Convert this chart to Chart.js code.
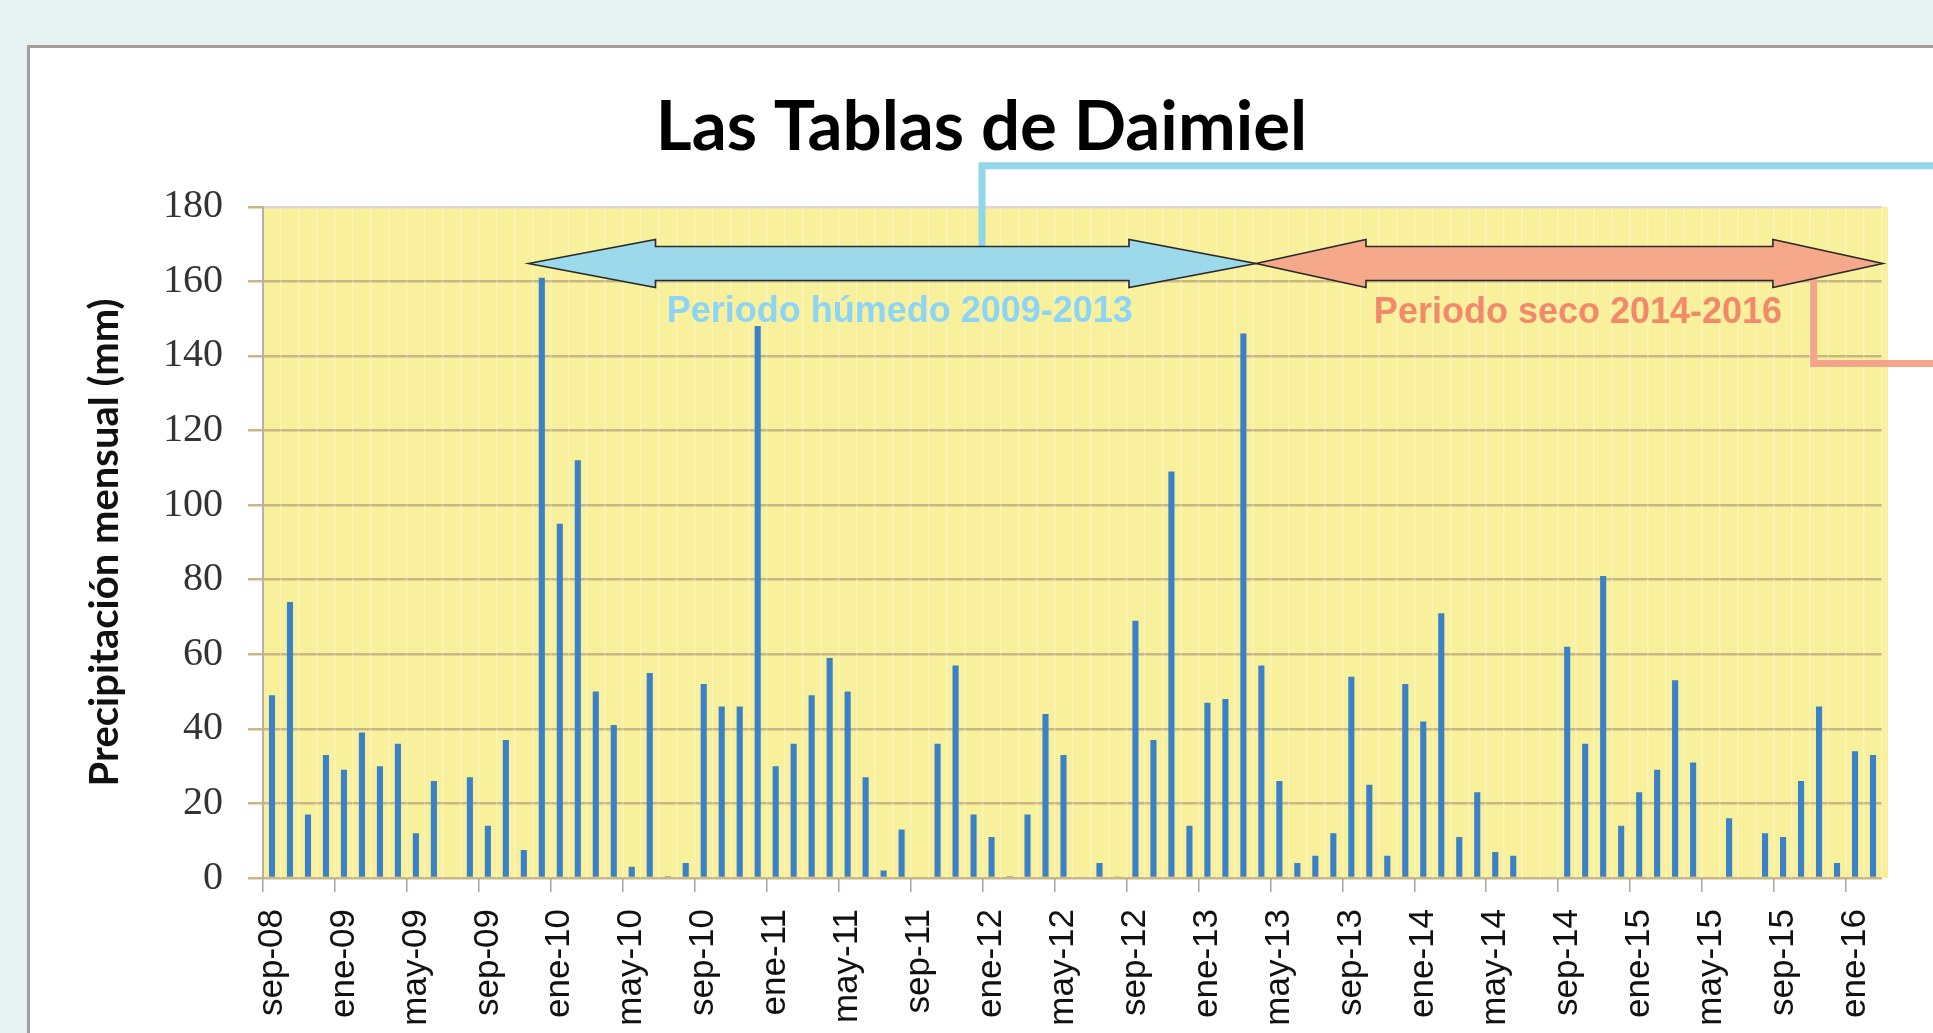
<!DOCTYPE html>
<html lang="es">
<head>
<meta charset="utf-8">
<title>Las Tablas de Daimiel</title>
<script src="https://cdn.jsdelivr.net/npm/chart.js@4.4.1/dist/chart.umd.min.js"></script>
<style>
    html, body { margin: 0; padding: 0; }
    body { width: 1933px; height: 1033px; background: #e6f1f1; overflow: hidden; position: relative; }
    #panel { position: absolute; left: 27px; top: 45px; width: 1960px; height: 1060px; background: #fff; border: 3px solid #a59d9c; box-sizing: border-box; }
    #wrap { position: absolute; left: 0; top: 0; width: 1933px; height: 1033px; }
</style>
</head>
<body>
<div id="panel"></div>
<div id="wrap"><canvas id="daimielChart"></canvas></div>
<script>
// Meses (sep-08 a feb-16)
const meses = [
    'sep-08', 'oct-08', 'nov-08', 'dic-08',
    'ene-09', 'feb-09', 'mar-09', 'abr-09', 'may-09', 'jun-09', 'jul-09', 'ago-09', 'sep-09', 'oct-09', 'nov-09', 'dic-09',
    'ene-10', 'feb-10', 'mar-10', 'abr-10', 'may-10', 'jun-10', 'jul-10', 'ago-10', 'sep-10', 'oct-10', 'nov-10', 'dic-10',
    'ene-11', 'feb-11', 'mar-11', 'abr-11', 'may-11', 'jun-11', 'jul-11', 'ago-11', 'sep-11', 'oct-11', 'nov-11', 'dic-11',
    'ene-12', 'feb-12', 'mar-12', 'abr-12', 'may-12', 'jun-12', 'jul-12', 'ago-12', 'sep-12', 'oct-12', 'nov-12', 'dic-12',
    'ene-13', 'feb-13', 'mar-13', 'abr-13', 'may-13', 'jun-13', 'jul-13', 'ago-13', 'sep-13', 'oct-13', 'nov-13', 'dic-13',
    'ene-14', 'feb-14', 'mar-14', 'abr-14', 'may-14', 'jun-14', 'jul-14', 'ago-14', 'sep-14', 'oct-14', 'nov-14', 'dic-14',
    'ene-15', 'feb-15', 'mar-15', 'abr-15', 'may-15', 'jun-15', 'jul-15', 'ago-15', 'sep-15', 'oct-15', 'nov-15', 'dic-15',
    'ene-16', 'feb-16'
];

// Precipitación mensual (mm), mismo orden que meses
const precipitacion = [
    49, 74, 17, 33,
    29, 39, 30, 36, 12, 26, 0, 27, 14, 37, 7.5, 161,
    95, 112, 50, 41, 3, 55, 0.5, 4, 52, 46, 46, 148,
    30, 36, 49, 59, 50, 27, 2, 13, 0, 36, 57, 17,
    11, 0.5, 17, 44, 33, 0, 4, 0.3, 69, 37, 109, 14,
    47, 48, 146, 57, 26, 4, 6, 12, 54, 25, 6, 52,
    42, 71, 11, 23, 7, 6, 0, 0, 62, 36, 81, 14,
    23, 29, 53, 31, 0, 16, 0, 12, 11, 26, 46, 4,
    34, 33
];

// Marcas del eje Y
const ticksY = [0, 20, 40, 60, 80, 100, 120, 140, 160, 180];

// Periodos marcados con flechas (posiciones en índice de mes y mm)
const periodoHumedo = { texto: 'Periodo húmedo 2009-2013', desde: 14.26, hasta: 54.7, nivel: 164.8, textoX: 34.9, textoY: 151.8 };
const periodoSeco = { texto: 'Periodo seco 2014-2016', desde: 54.7, hasta: 89.55, nivel: 164.8, textoX: 72.6, textoY: 151.6 };

// Fondo amarillo del área de trazado
const fondoPlugin = {
    id: 'fondoPlot',
    beforeDraw(chart) {
        const { ctx, chartArea: a } = chart;
        ctx.save();
        ctx.fillStyle = '#f9f09c';
        ctx.fillRect(a.left, a.top, a.right - a.left + 6, a.bottom - a.top);
        ctx.restore();
    }
};

// Flecha de doble punta
function dibujarFlecha(ctx, x1, x2, yc, cabeza, relleno) {
    const alto = 24, asta = 17;
    ctx.beginPath();
    ctx.moveTo(x1, yc);
    ctx.lineTo(x1 + cabeza, yc - alto);
    ctx.lineTo(x1 + cabeza, yc - asta);
    ctx.lineTo(x2 - cabeza, yc - asta);
    ctx.lineTo(x2 - cabeza, yc - alto);
    ctx.lineTo(x2, yc);
    ctx.lineTo(x2 - cabeza, yc + alto);
    ctx.lineTo(x2 - cabeza, yc + asta);
    ctx.lineTo(x1 + cabeza, yc + asta);
    ctx.lineTo(x1 + cabeza, yc + alto);
    ctx.closePath();
    ctx.fillStyle = relleno;
    ctx.fill();
    ctx.strokeStyle = '#2a2a2a';
    ctx.lineWidth = 1.6;
    ctx.stroke();
}

const periodosPlugin = {
    id: 'periodos',
    afterDatasetsDraw(chart) {
        const { ctx, scales: { x, y } } = chart;
        ctx.save();

        // conectores que salen hacia la derecha
        ctx.lineWidth = 7;
        ctx.strokeStyle = '#93d6e9';
        ctx.beginPath();
        ctx.moveTo(x.getPixelForValue(39.47), y.getPixelForValue(periodoHumedo.nivel));
        ctx.lineTo(x.getPixelForValue(39.47), y.getPixelForValue(191));
        ctx.lineTo(chart.width + 10, y.getPixelForValue(191));
        ctx.stroke();

        ctx.strokeStyle = '#f5a48b';
        ctx.beginPath();
        ctx.moveTo(x.getPixelForValue(85.7), y.getPixelForValue(periodoSeco.nivel));
        ctx.lineTo(x.getPixelForValue(85.7), y.getPixelForValue(138));
        ctx.lineTo(chart.width + 10, y.getPixelForValue(138));
        ctx.stroke();

        dibujarFlecha(ctx, x.getPixelForValue(periodoHumedo.desde), x.getPixelForValue(periodoHumedo.hasta),
            y.getPixelForValue(periodoHumedo.nivel), 127, '#9cd9eb');
        dibujarFlecha(ctx, x.getPixelForValue(periodoSeco.desde), x.getPixelForValue(periodoSeco.hasta),
            y.getPixelForValue(periodoSeco.nivel), 110, '#f6a98a');

        ctx.font = 'bold 36px "Liberation Sans", Arial, sans-serif';
        ctx.textAlign = 'center';
        ctx.textBaseline = 'middle';
        ctx.fillStyle = '#8dd5f6';
        ctx.fillText(periodoHumedo.texto, x.getPixelForValue(periodoHumedo.textoX), y.getPixelForValue(periodoHumedo.textoY));
        ctx.fillStyle = '#f2896b';
        ctx.fillText(periodoSeco.texto, x.getPixelForValue(periodoSeco.textoX), y.getPixelForValue(periodoSeco.textoY));

        ctx.restore();
    }
};

function renderDaimiel() {
    const canvas = document.getElementById('daimielChart');
    new Chart(canvas.getContext('2d'), {
        type: 'bar',
        data: {
            labels: meses,
            datasets: [{
                label: 'Precipitación mensual (mm)',
                data: precipitacion,
                backgroundColor: '#3b81c7',
                borderWidth: 0,
                barPercentage: 0.34,
                categoryPercentage: 1.0
            }]
        },
        options: {
            responsive: true,
            maintainAspectRatio: false,
            animation: false,
            layout: { padding: { left: 81, right: 51, top: 0, bottom: 0 } },
            scales: {
                y: {
                    min: 0,
                    max: 180,
                    afterBuildTicks: (axis) => { axis.ticks = ticksY.map(v => ({ value: v })); },
                    afterFit: (axis) => { axis.width = 182; },
                    ticks: {
                        color: '#333',
                        padding: 25,
                        font: { family: '"Liberation Serif", serif', size: 40 }
                    },
                    grid: {
                        color: (c) => c.tick && c.tick.value === 180 ? '#ddd3d1' : '#c8b684',
                        lineWidth: 2.5,
                        tickLength: 15,
                        tickColor: '#c8b684'
                    },
                    border: { display: true, color: '#b9aea9', width: 2 },
                    title: {
                        display: true,
                        text: 'Precipitación mensual (mm)',
                        color: '#111',
                        font: { family: 'Lato, sans-serif', size: 40, weight: 'bold' },
                        padding: { top: 0, bottom: 20 }
                    }
                },
                x: {
                    afterFit: (axis) => { axis.height = 155; },
                    ticks: {
                        color: '#111',
                        autoSkip: false,
                        maxRotation: 90,
                        minRotation: 90,
                        padding: 17,
                        font: { family: '"Liberation Sans", Arial, sans-serif', size: 35 },
                        callback: (v, i) => i % 4 === 0 ? meses[i] : ''
                    },
                    grid: {
                        color: 'rgba(255, 255, 255, 0.3)',
                        lineWidth: 1.5,
                        tickLength: 14,
                        tickColor: (c) => c.index % 4 === 0 ? '#aaa4a0' : 'rgba(0, 0, 0, 0)'
                    },
                    border: { display: false }
                }
            },
            plugins: {
                legend: { display: false },
                tooltip: { enabled: false },
                title: {
                    display: true,
                    text: 'Las Tablas de Daimiel',
                    color: '#000',
                    font: { family: 'Lato, sans-serif', size: 69, weight: 'bold' },
                    padding: { top: 86, bottom: 38 }
                }
            }
        },
        plugins: [fondoPlugin, periodosPlugin]
    });
}

renderDaimiel();
</script>
</body>
</html>
